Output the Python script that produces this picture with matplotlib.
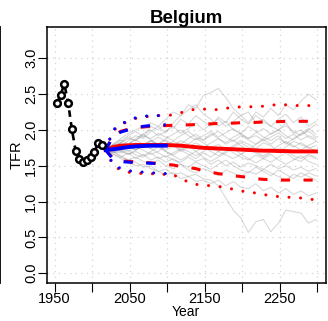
import numpy as np
import matplotlib
matplotlib.use('Agg')
import matplotlib.pyplot as plt
from matplotlib.lines import Line2D

plt.rcParams['font.family'] = ['Liberation Sans', 'DejaVu Sans']

# observed TFR
obs_years = [1953, 1958, 1963, 1968, 1973, 1978, 1983, 1988, 1993, 1998, 2003, 2008, 2013]
obs_tfr = [2.37, 2.49, 2.64, 2.38, 2.01, 1.71, 1.60, 1.55, 1.58, 1.62, 1.69, 1.82, 1.79]

# projection years (10-year steps)
proj_years = list(range(2018, 2299, 10))
blue_years = list(range(2018, 2099, 10))

# red projection (to 2300)
red_median = [1.72, 1.76, 1.78, 1.785, 1.79, 1.79, 1.79, 1.79, 1.79, 1.785, 1.78, 1.77, 1.76, 1.75,
              1.745, 1.74, 1.735, 1.73, 1.725, 1.72, 1.715, 1.71, 1.71, 1.705, 1.705, 1.70, 1.70, 1.70, 1.70]
red_up80 = [1.72, 1.92, 1.98, 2.01, 2.03, 2.04, 2.05, 2.06, 2.06, 2.065, 2.07, 2.07, 2.075, 2.08,
            2.085, 2.09, 2.09, 2.095, 2.10, 2.10, 2.105, 2.11, 2.11, 2.115, 2.12, 2.12, 2.12, 2.12, 2.12]
red_lo80 = [1.72, 1.60, 1.57, 1.56, 1.555, 1.55, 1.54, 1.53, 1.52, 1.51, 1.49, 1.475, 1.46, 1.43,
            1.41, 1.39, 1.375, 1.36, 1.35, 1.335, 1.32, 1.31, 1.305, 1.30, 1.30, 1.30, 1.30, 1.30, 1.30]
red_up95 = [1.72, 1.99, 2.07, 2.12, 2.16, 2.18, 2.19, 2.20, 2.20, 2.21, 2.24, 2.27, 2.29, 2.29,
            2.29, 2.28, 2.30, 2.32, 2.32, 2.32, 2.33, 2.33, 2.34, 2.36, 2.35, 2.34, 2.34, 2.34, 2.33]
red_lo95 = [1.72, 1.50, 1.44, 1.41, 1.40, 1.39, 1.39, 1.38, 1.38, 1.37, 1.33, 1.27, 1.24, 1.23,
            1.22, 1.21, 1.20, 1.17, 1.15, 1.13, 1.12, 1.10, 1.08, 1.07, 1.06, 1.06, 1.05, 1.03, 1.03]

# blue projection (to 2100)
blue_median = [1.72, 1.73, 1.745, 1.76, 1.77, 1.775, 1.78, 1.78, 1.78]
blue_up80 = [1.72, 1.91, 1.97, 2.00, 2.03, 2.05, 2.06, 2.07, 2.07]
blue_lo80 = [1.72, 1.59, 1.56, 1.55, 1.545, 1.54, 1.535, 1.53, 1.53]
blue_up95 = [1.72, 2.00, 2.08, 2.13, 2.17, 2.19, 2.20, 2.20, 2.19]
blue_lo95 = [1.72, 1.52, 1.46, 1.43, 1.42, 1.41, 1.40, 1.40, 1.39]

# a sample of trajectories
trajectories = [
    [1.72, 1.80, 1.88, 1.95, 2.00, 2.05, 2.10, 2.05, 2.15, 2.25, 2.20, 2.35, 2.30, 2.48, 2.52,
     2.58, 2.45, 2.30, 2.20, 2.25, 2.10, 2.15, 2.05, 2.00, 2.10, 1.95, 2.00, 1.90, 1.85],
    [1.72, 1.75, 1.82, 1.90, 1.85, 1.95, 2.00, 1.92, 1.98, 2.05, 1.95, 2.02, 2.10, 2.00, 2.08,
     2.15, 2.05, 2.12, 2.20, 2.10, 2.25, 2.18, 2.30, 2.20, 2.35, 2.28, 2.40, 2.50, 2.42],
    [1.72, 1.66, 1.60, 1.55, 1.50, 1.52, 1.46, 1.42, 1.45, 1.38, 1.40, 1.35, 1.38, 1.32, 1.30,
     1.22, 1.05, 0.88, 0.77, 0.57, 0.72, 0.75, 0.58, 0.70, 0.88, 0.86, 0.84, 0.70, 0.75],
    [1.72, 1.70, 1.62, 1.58, 1.55, 1.48, 1.50, 1.42, 1.38, 1.40, 1.32, 1.35, 1.28, 1.30, 1.25,
     1.30, 1.22, 1.28, 1.20, 1.18, 1.25, 1.15, 1.20, 1.12, 1.18, 1.10, 1.15, 1.08, 1.12],
    [1.72, 1.78, 1.85, 1.92, 1.98, 1.90, 2.05, 2.00, 2.10, 2.02, 2.15, 2.08, 2.20, 2.12, 2.05,
     2.18, 2.10, 2.25, 2.15, 2.08, 2.20, 2.12, 2.05, 2.15, 2.22, 2.10, 2.18, 2.05, 2.12],
    [1.72, 1.76, 1.80, 1.75, 1.82, 1.78, 1.85, 1.80, 1.72, 1.78, 1.85, 1.80, 1.88, 1.82, 1.75,
     1.80, 1.72, 1.78, 1.85, 1.80, 1.74, 1.82, 1.78, 1.70, 1.76, 1.84, 1.80, 1.74, 1.78],
    [1.72, 1.70, 1.68, 1.72, 1.65, 1.62, 1.68, 1.60, 1.64, 1.58, 1.55, 1.62, 1.56, 1.60, 1.52,
     1.58, 1.50, 1.55, 1.48, 1.54, 1.50, 1.45, 1.52, 1.46, 1.50, 1.44, 1.48, 1.42, 1.46],
    [1.72, 1.78, 1.82, 1.88, 1.85, 1.92, 1.88, 1.95, 1.90, 1.85, 1.92, 1.98, 1.90, 1.85, 1.95,
     1.88, 1.82, 1.90, 1.95, 1.88, 1.92, 1.85, 1.90, 1.96, 1.88, 1.94, 1.86, 1.92, 1.88],
    [1.72, 1.74, 1.70, 1.78, 1.72, 1.80, 1.85, 1.78, 1.70, 1.65, 1.72, 1.66, 1.60, 1.68, 1.62,
     1.70, 1.75, 1.68, 1.62, 1.58, 1.65, 1.60, 1.55, 1.62, 1.68, 1.60, 1.56, 1.64, 1.60],
    [1.72, 1.68, 1.74, 1.70, 1.76, 1.72, 1.66, 1.70, 1.78, 1.84, 1.80, 1.88, 1.94, 1.86, 1.92,
     1.98, 1.90, 1.84, 1.92, 1.86, 1.80, 1.88, 1.95, 2.00, 1.92, 1.86, 1.94, 1.98, 1.90],
    [1.72, 1.80, 1.76, 1.85, 1.92, 1.88, 1.98, 2.05, 1.96, 2.10, 2.20, 2.28, 2.35, 2.22, 2.15,
     2.05, 2.12, 2.00, 1.95, 2.05, 1.98, 1.90, 1.85, 1.92, 1.80, 1.88, 1.95, 2.02, 1.94],
    [1.72, 1.66, 1.62, 1.68, 1.60, 1.66, 1.58, 1.62, 1.55, 1.60, 1.52, 1.48, 1.55, 1.50, 1.45,
     1.52, 1.58, 1.50, 1.44, 1.40, 1.48, 1.42, 1.36, 1.44, 1.38, 1.32, 1.40, 1.35, 1.30],
    [1.72, 1.75, 1.70, 1.66, 1.72, 1.78, 1.74, 1.68, 1.62, 1.68, 1.74, 1.70, 1.64, 1.70, 1.76,
     1.70, 1.65, 1.60, 1.66, 1.72, 1.68, 1.62, 1.68, 1.74, 1.70, 1.64, 1.60, 1.66, 1.62],
    [1.72, 1.78, 1.72, 1.80, 1.86, 1.80, 1.74, 1.80, 1.86, 1.80, 1.72, 1.78, 1.70, 1.75, 1.82,
     1.88, 1.80, 1.86, 1.78, 1.72, 1.80, 1.86, 1.80, 1.88, 1.82, 1.76, 1.82, 1.76, 1.70],
    [1.72, 1.70, 1.64, 1.58, 1.62, 1.56, 1.52, 1.58, 1.50, 1.46, 1.52, 1.44, 1.40, 1.46, 1.42,
     1.36, 1.44, 1.40, 1.34, 1.42, 1.38, 1.45, 1.40, 1.35, 1.30, 1.38, 1.34, 1.40, 1.36],
    [1.72, 1.76, 1.82, 1.78, 1.72, 1.78, 1.84, 1.90, 1.84, 1.78, 1.70, 1.76, 1.82, 1.76, 1.70,
     1.64, 1.70, 1.76, 1.82, 1.76, 1.70, 1.64, 1.70, 1.78, 1.84, 1.78, 1.72, 1.78, 1.84],
    [1.72, 1.68, 1.72, 1.66, 1.70, 1.64, 1.70, 1.76, 1.70, 1.64, 1.58, 1.64, 1.70, 1.62, 1.56,
     1.62, 1.68, 1.74, 1.66, 1.60, 1.54, 1.60, 1.66, 1.58, 1.52, 1.58, 1.64, 1.56, 1.52],
    [1.72, 1.80, 1.86, 1.80, 1.88, 1.94, 1.86, 1.80, 1.88, 1.94, 2.00, 1.92, 1.86, 1.92, 1.98,
     1.90, 1.96, 2.02, 1.94, 1.88, 1.96, 2.02, 1.94, 2.00, 2.06, 1.98, 1.92, 2.00, 2.08],
]

x_ticks = [1950, 2000, 2050, 2100, 2150, 2200, 2250, 2300]
x_labels = ['1950', '', '2050', '', '2150', '', '2250', '']
y_ticks = [0.0, 0.5, 1.0, 1.5, 2.0, 2.5, 3.0]

fig = plt.figure(figsize=(3.28, 3.21), dpi=100)
ax = fig.add_axes([0.1424, 0.1193, 0.8506, 0.7957])

dash = (3.0, 4.4)
dot = (0.01, 3.8)

# trajectories
for traj in trajectories:
    ax.plot(proj_years, traj, color='gray', alpha=0.3, lw=0.8, zorder=2)

# red: median, 80% and 95% intervals
ax.plot(proj_years, red_median, color='red', lw=2.8, zorder=3)
for vals in (red_up80, red_lo80):
    ax.plot(proj_years, vals, color='red', lw=2.2, dashes=dash, zorder=3)
for vals in (red_up95, red_lo95):
    ax.plot(proj_years, vals, color='red', lw=2.2, dashes=dot,
            dash_capstyle='round', zorder=3)

# blue: same up to 2100
ax.plot(blue_years, blue_median, color='blue', lw=2.8, zorder=4)
for vals in (blue_up80, blue_lo80):
    ax.plot(blue_years, vals, color='blue', lw=2.2, dashes=dash, zorder=4)
for vals in (blue_up95, blue_lo95):
    ax.plot(blue_years, vals, color='blue', lw=2.2, dashes=dot,
            dash_capstyle='round', zorder=4)

# observed
ax.plot(obs_years, obs_tfr, color='black', lw=1.9, dashes=(2.5, 2.0), zorder=5)
ax.plot(obs_years, obs_tfr, 'o', mfc='white', mec='black', ms=4.8, mew=1.8, zorder=6)

ax.set_xlim(1939.5, 2311)
ax.set_ylim(-0.132, 3.432)
ax.set_xticks(x_ticks)
ax.set_xticklabels(x_labels)
ax.set_yticks(y_ticks)
ax.set_yticklabels([f'{v:.1f}' for v in y_ticks], rotation=90, va='center')
ax.tick_params(direction='out', length=6.5, width=0.8, labelsize=10.5, colors='black')
ax.tick_params(axis='x', pad=0.5)
ax.tick_params(axis='y', pad=-0.5)
ax.grid(True, color='lightgray', lw=0.9, linestyle=(0, (1, 3.5)), zorder=0)
ax.set_axisbelow(True)
for sp in ax.spines.values():
    sp.set_linewidth(1.1)

ax.set_xlabel('Year', fontsize=10, labelpad=-1)
ax.set_ylabel('TFR', fontsize=10.5, labelpad=0.5)
ax.set_title('Belgium', fontsize=13.4, fontweight='bold', pad=1.7)

# border of the neighbouring panel
fig.add_artist(Line2D([0.0015, 0.0015], [0.1193, 0.915], color='black', lw=1.3))

fig.savefig('out.png', dpi=100)
